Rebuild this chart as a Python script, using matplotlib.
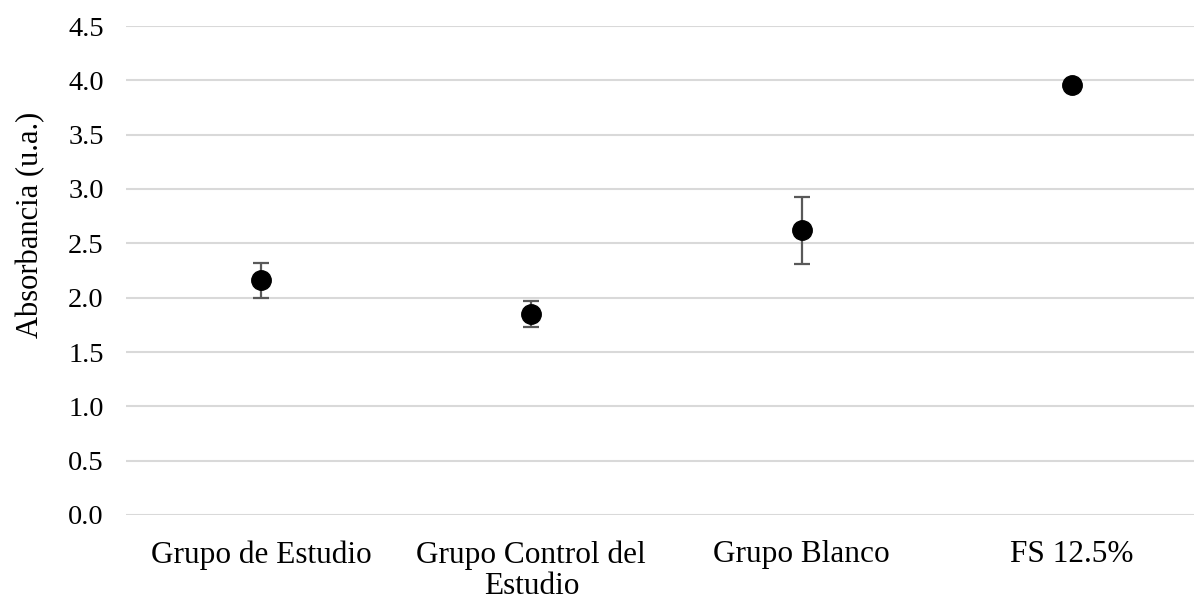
import numpy as np
import matplotlib.pyplot as plt

categories = ['Grupo de Estudio', 'Grupo Control del\nEstudio', 'Grupo Blanco', 'FS 12.5%']
means = [2.16, 1.85, 2.62, 3.96]
errors = [0.16, 0.12, 0.31, 0.03]

plt.rcParams['font.family'] = ['Liberation Serif', 'DejaVu Serif']

fig = plt.figure(figsize=(11.94, 6.02), dpi=100)
ax = fig.add_axes([126 / 1194, 1 - 515 / 602, 1081 / 1194, 489 / 602])

x = np.arange(len(categories))
ax.errorbar(x, means, yerr=errors, fmt='o', color='black', markersize=14,
            ecolor='#595959', elinewidth=1.6, capsize=5.5, capthick=1.6, zorder=3)

ax.set_xlim(-0.5, len(categories) - 0.5)
ax.set_ylim(0, 4.5)
yt = np.arange(0, 4.51, 0.5)
ax.set_yticks(yt)
ax.set_yticklabels([f'{v:.1f}' for v in yt], fontsize=20.5)
ax.set_xticks(x)
ax.set_xticklabels(categories, fontsize=22.5, linespacing=1.12)
ax.grid(axis='y', color='#d9d9d9', linewidth=1.5)
ax.set_axisbelow(True)
for s in ax.spines.values():
    s.set_visible(False)
ax.tick_params(axis='both', length=0, colors='black')
ax.tick_params(axis='y', pad=16)
ax.tick_params(axis='x', pad=18)
fig.text(31 / 1194, 1 - 225 / 602, 'Absorbancia (u.a.)', rotation=90,
         ha='center', va='center', fontsize=22)

fig.savefig('out.png', dpi=100)
